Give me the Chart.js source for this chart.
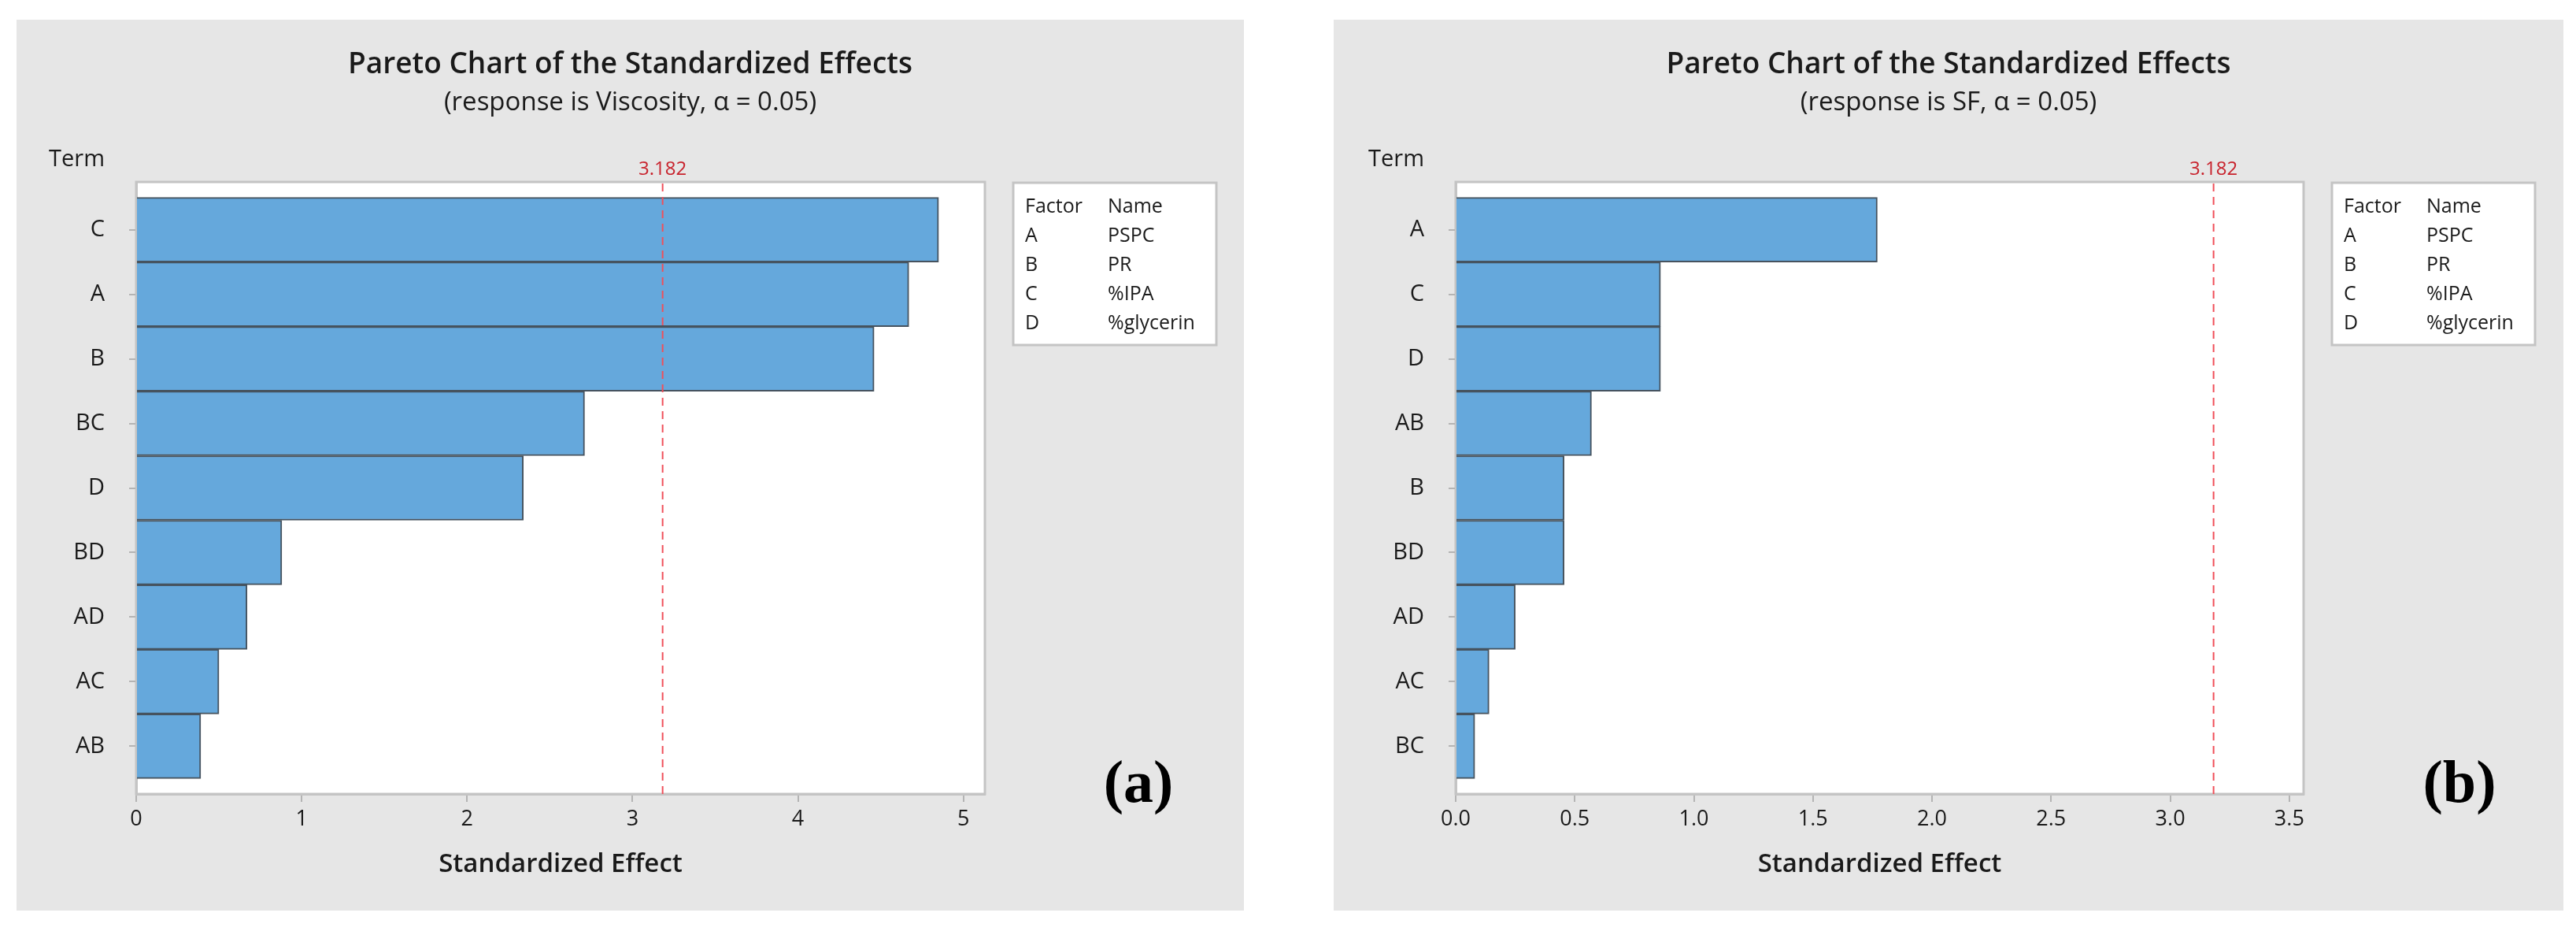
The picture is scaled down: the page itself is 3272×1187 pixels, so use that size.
<!DOCTYPE html>
<html>
<head>
<meta charset="utf-8">
<script src="https://cdn.jsdelivr.net/npm/chart.js@4.4.1/dist/chart.umd.min.js"></script>
<style>
  html, body { margin: 0; padding: 0; background: #fff; }
  body { width: 3272px; height: 1187px; position: relative; overflow: hidden; }
  .panel { position: absolute; top: 25px; height: 1131px; background: #e6e6e6; }
</style>
</head>
<body>
<div class="panel" style="left:21px;width:1559px"><canvas id="chartA"></canvas></div>
<div class="panel" style="left:1694px;width:1562px"><canvas id="chartB"></canvas></div>
<script>
// (a) response is Viscosity
var termsA = ['C', 'A', 'B', 'BC', 'D', 'BD', 'AD', 'AC', 'AB'];
var effectsA = [4.85, 4.67, 4.46, 2.71, 2.34, 0.88, 0.67, 0.50, 0.39];
var xTicksA = [0, 1, 2, 3, 4, 5];

// (b) response is SF
var termsB = ['A', 'C', 'D', 'AB', 'B', 'BD', 'AD', 'AC', 'BC'];
var effectsB = [1.77, 0.86, 0.86, 0.57, 0.455, 0.455, 0.25, 0.14, 0.08];
var xTicksB = [0, 0.5, 1.0, 1.5, 2.0, 2.5, 3.0, 3.5];

var critical = 3.182;
var factors = ['A', 'B', 'C', 'D'];
var factorNames = ['PSPC', 'PR', '%IPA', '%glycerin'];

var FONT = "'Open Sans', 'Noto Sans', sans-serif";

var paretoExtras = {
  id: 'paretoExtras',
  beforeDraw(chart) {
    var a = chart.chartArea, ctx = chart.ctx;
    ctx.save();
    ctx.fillStyle = '#ffffff';
    ctx.fillRect(a.left, a.top, a.right - a.left, a.bottom - a.top);
    ctx.strokeStyle = '#c4c4c4';
    ctx.lineWidth = 3;
    ctx.strokeRect(a.left, a.top, a.right - a.left, a.bottom - a.top);
    ctx.restore();
  },
  afterDraw(chart, args, opts) {
    var a = chart.chartArea, ctx = chart.ctx;
    var x = chart.scales.x.getPixelForValue(critical);
    ctx.save();
    // reference line
    ctx.strokeStyle = '#f0505a';
    ctx.lineWidth = 2;
    ctx.setLineDash([10, 7]);
    ctx.beginPath();
    ctx.moveTo(x, a.top + 2);
    ctx.lineTo(x, a.bottom);
    ctx.stroke();
    ctx.setLineDash([]);
    ctx.fillStyle = '#c8222c';
    ctx.font = '24px ' + FONT;
    ctx.textAlign = 'center';
    ctx.textBaseline = 'middle';
    ctx.fillText(String(critical), x, a.top - 16);

    // "Term" header
    ctx.fillStyle = '#1a1a1a';
    ctx.font = '29px ' + FONT;
    ctx.textAlign = 'right';
    ctx.fillText('Term', a.left - 40, a.top - 28);

    // factor table
    var bx = a.right + 36, by = a.top + 1, bw = 258, bh = 206;
    ctx.fillStyle = '#ffffff';
    ctx.fillRect(bx, by, bw, bh);
    ctx.strokeStyle = '#c4c4c4';
    ctx.lineWidth = 3;
    ctx.strokeRect(bx, by, bw, bh);
    ctx.fillStyle = '#1a1a1a';
    ctx.font = '25px ' + FONT;
    ctx.textAlign = 'left';
    ctx.fillText('Factor', bx + 15, by + 31);
    ctx.fillText('Name', bx + 120, by + 31);
    factors.forEach(function (f, i) {
      ctx.fillText(f, bx + 15, by + 31 + 37 * (i + 1));
      ctx.fillText(factorNames[i], bx + 120, by + 31 + 37 * (i + 1));
    });

    // panel tag
    ctx.fillStyle = '#000000';
    ctx.font = "bold 76px 'Liberation Serif', 'DejaVu Serif', serif";
    ctx.textAlign = 'center';
    ctx.fillText(opts.tag, opts.tagX, 973);
    ctx.restore();
  }
};

function makePareto(id, terms, effects, xTicks, xMax, subtitle, areaLeft, areaRight, tag, tagX) {
  var canvas = document.getElementById(id);
  var W = canvas.parentNode.clientWidth;
  return new Chart(canvas, {
    type: 'bar',
    data: {
      datasets: [{
        data: effects.map((v, i) => ({ x: v, y: i })),
        backgroundColor: '#65a8dc',
        borderColor: '#46535f',
        borderWidth: 2,
        borderSkipped: 'left',
        barPercentage: 1,
        categoryPercentage: 1
      }]
    },
    plugins: [paretoExtras],
    options: {
      indexAxis: 'y',
      responsive: true,
      maintainAspectRatio: false,
      animation: false,
      layout: { padding: 0 },
      plugins: {
        legend: { display: false },
        tooltip: { enabled: false },
        title: {
          display: true,
          text: 'Pareto Chart of the Standardized Effects',
          color: '#1a1a1a',
          font: { family: FONT, size: 37, weight: '600' },
          padding: { top: 35, bottom: 6 }
        },
        subtitle: {
          display: true,
          text: subtitle,
          color: '#1a1a1a',
          font: { family: FONT, size: 33 },
          padding: { top: 0, bottom: 81 }
        },
        paretoExtras: { tag: tag, tagX: tagX }
      },
      scales: {
        x: {
          type: 'linear',
          min: 0,
          max: xMax,
          afterFit: s => { s.height = 148; },
          afterBuildTicks: s => { s.ticks = xTicks.map(v => ({ value: v })); },
          ticks: {
            color: '#1a1a1a',
            font: { family: FONT, size: 27 },
            padding: 6,
            callback: v => (xTicks.length > 6 ? v.toFixed(1) : String(v))
          },
          grid: { drawOnChartArea: false, tickLength: 10, color: '#b4b4b4', lineWidth: 2 },
          border: { color: '#c4c4c4', width: 3 },
          title: {
            display: true,
            text: 'Standardized Effect',
            color: '#1a1a1a',
            font: { family: FONT, size: 33, weight: '600' },
            padding: { top: 0, bottom: 39 }
          }
        },
        y: {
          type: 'linear',
          reverse: true,
          offset: false,
          min: -0.74,
          max: 8.74,
          afterFit: s => { s.width = areaLeft; },
          ticks: {
            stepSize: 1,
            includeBounds: false,
            color: '#1a1a1a',
            font: { family: FONT, size: 29 },
            padding: 31,
            callback: v => (terms[v] !== undefined ? terms[v] : '')
          },
          grid: { offset: false, drawOnChartArea: false, tickLength: 9, color: '#b4b4b4', lineWidth: 2 },
          border: { color: '#c4c4c4', width: 3 }
        },
        // empty right-hand box that holds the space for the factor table
        side: {
          type: 'linear',
          position: 'right',
          afterFit: s => { s.width = W - areaRight; },
          grid: { display: false },
          border: { display: false },
          ticks: { display: false }
        }
      }
    }
  });
}

makePareto('chartA', termsA, effectsA, xTicksA, 5.13,
  '(response is Viscosity, \u03b1 = 0.05)', 152, 1230, '(a)', 1425);
makePareto('chartB', termsB, effectsB, xTicksB, 3.56,
  '(response is SF, \u03b1 = 0.05)', 155, 1232, '(b)', 1430);
</script>
</body>
</html>
